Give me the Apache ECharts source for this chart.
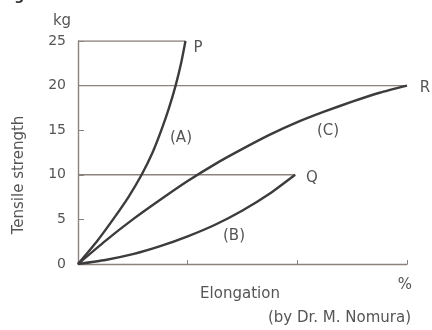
<!DOCTYPE html>
<html><head><meta charset="utf-8">
<script src="https://cdn.jsdelivr.net/npm/echarts@6/dist/echarts.min.js"></script>
<style>html,body{margin:0;padding:0;background:#fff}#c{width:432px;height:330px}</style>
</head><body><div id="c"></div>
<script>
// Tick values
const yTicks = [0, 5, 10, 15, 20, 25];
const xTicks = [0, 1, 2, 3];
// Curves: [elongation, tensile strength]
const curveA = [[0,0],[0.17,2.5],[0.32,5],[0.46,7.5],[0.58,10],[0.68,12.5],[0.76,15],[0.83,17.5],[0.89,20],[0.94,22.5],[0.98,25]];
const curveB = [[0,0],[0.25,0.45],[0.5,1.1],[0.75,2.0],[1.0,3.1],[1.25,4.4],[1.5,6.0],[1.75,7.9],[1.98,10]];
const curveC = [[0,0],[0.25,2.6],[0.5,5],[0.75,7.2],[1.0,9.3],[1.25,11.2],[1.5,12.9],[1.75,14.5],[2.0,15.9],[2.25,17.1],[2.5,18.2],[2.75,19.2],[3.0,20]];
// Guide lines from axis to end points
const guideP = [[0,25],[0.98,25]];
const guideR = [[0,20],[3.0,20]];
const guideQ = [[0,10],[1.98,10]];
const endLabels = ['P', 'Q', 'R'];
const curveLabels = ['(A)', '(B)', '(C)'];

const FONT = '"DejaVu Sans", sans-serif';
const TXT = '#555';
const chart = echarts.init(document.getElementById('c'), null, {renderer:'canvas'});
const thin = {color:'#8b827e', width:1.4};
const thick = {color:'#3d3b3b', width:2.4};
function line(data, style, smooth){
  return {type:'line', data, showSymbol:false, symbol:'none', smooth: smooth||false,
    lineStyle:style, silent:true, z: style===thick?3:2};
}
function txt(x, y, text, size, align){
  return {type:'text', x, y, style:{text, font:size+'px '+FONT, fill:TXT, align:align||'center', verticalAlign:'middle'}};
}
chart.setOption({
  animation:false,
  grid:{left:78, right:25, top:41, bottom:66},
  xAxis:{type:'value', min:xTicks[0], max:xTicks[xTicks.length-1], interval:1,
    axisLine:{lineStyle:{color:'#8b827e', width:1.4}},
    axisTick:{inside:true, length:4, lineStyle:{color:'#8b827e'}},
    axisLabel:{show:false}, splitLine:{show:false}},
  yAxis:{type:'value', min:yTicks[0], max:yTicks[yTicks.length-1], interval:5,
    axisLine:{show:true, lineStyle:{color:'#8b827e', width:1.4}},
    axisTick:{show:true, inside:true, length:6, lineStyle:{color:'#8b827e'}},
    axisLabel:{color:TXT, fontFamily:FONT, fontSize:14, margin:12},
    splitLine:{show:false}},
  series:[
    line(guideP, thin), line(guideR, thin), line(guideQ, thin),
    line(curveA, thick, 0.2), line(curveB, thick, 0.2), line(curveC, thick, 0.2)
  ],
  graphic:[
    {type:'text', x:0, y:3, style:{text:'Fig. 7   Stress-strain curve', font:'bold 14px '+FONT, fill:'#333', verticalAlign:'bottom'}},
    txt(62, 21, 'kg', 15),
    {type:'text', x:19, y:175, rotation:Math.PI/2, style:{text:'Tensile strength', font:'15px '+FONT, fill:TXT, align:'center', verticalAlign:'middle'}},
    txt(240, 294, 'Elongation', 15),
    txt(405, 285, '%', 15),
    txt(411, 318, '(by Dr. M. Nomura)', 15, 'right'),
    txt(198, 48, endLabels[0], 15),
    txt(312, 178, endLabels[1], 15),
    txt(425, 88, endLabels[2], 15),
    txt(181, 138, curveLabels[0], 15),
    txt(234, 236, curveLabels[1], 15),
    txt(328, 131, curveLabels[2], 15)
  ]
});
</script></body></html>
